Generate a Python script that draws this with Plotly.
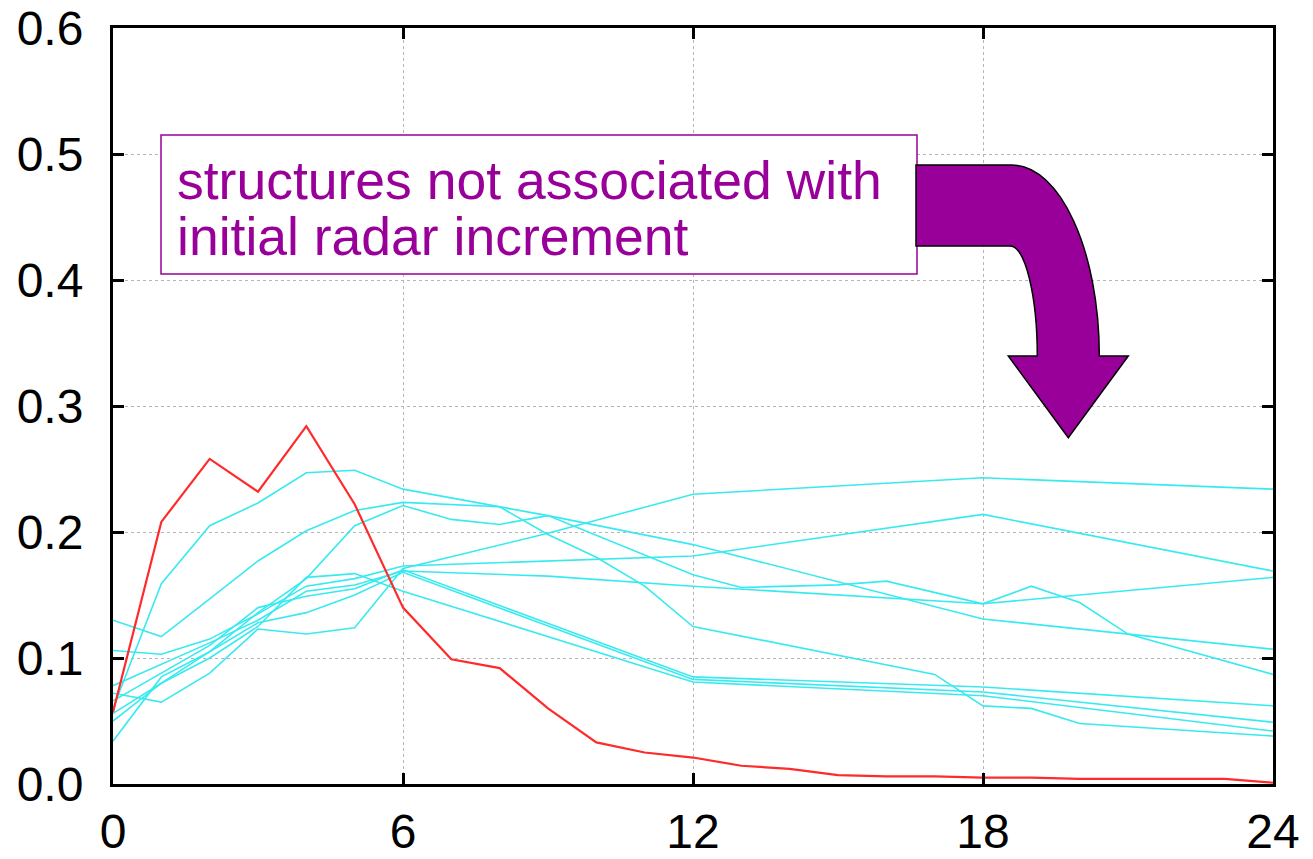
import plotly.graph_objects as go

# Lead time in hours (0-24); None marks hours with no stored vertex
hours = list(range(25))
N = None

# Spread of the highlighted structure (red)
red_vals = [0.057, 0.208, 0.258, 0.232, 0.284, 0.222, 0.140, 0.099, 0.092, 0.060,
            0.033, 0.025, 0.021, 0.0145, 0.012, 0.007, 0.006, 0.006, 0.005, 0.005,
            0.004, 0.004, 0.004, 0.004, 0.001]

# Structures not associated with the initial radar increment (cyan)
cyan_1 = [0.060, 0.159, 0.205, 0.223, 0.247, 0.249, 0.234, N, N, 0.213, N, N, 0.190,
          N, N, N, N, N, 0.131, N, N, N, N, N, 0.107]
cyan_2 = [0.130, 0.117, 0.147, 0.177, 0.201, 0.217, 0.2235, N, 0.220, 0.198, 0.180, 0.157, 0.125,
          N, N, N, N, 0.087, 0.062, 0.060, 0.048, N, N, N, 0.038]
cyan_3 = [0.050, 0.080, 0.105, 0.136, 0.163, 0.205, 0.221, 0.210, 0.206, 0.213, N, N, 0.166,
          0.156, N, 0.158, 0.161, N, 0.143, 0.157, 0.144, 0.119, N, N, 0.087]
cyan_4 = [0.072, 0.065, 0.088, 0.123, 0.119, 0.124, 0.171, N, N, 0.199, N, N, 0.230,
          N, N, N, N, N, 0.243, N, N, N, N, N, 0.234]
cyan_5 = [0.106, 0.103, 0.115, 0.135, 0.157, 0.163, 0.173, N, N, N, N, N, 0.181,
          N, N, N, N, N, 0.214, N, N, N, N, N, 0.169]
cyan_6 = [0.078, 0.095, 0.112, 0.130, 0.153, 0.158, 0.169, N, N, 0.165, N, N, 0.157,
          N, N, N, N, N, 0.143, N, N, N, N, N, 0.164]
cyan_7 = [0.066, 0.088, 0.110, 0.140, 0.149, 0.155, 0.170, N, N, N, N, N, 0.085,
          N, N, N, N, N, 0.077, N, N, N, N, N, 0.062]
cyan_8 = [0.034, 0.085, 0.105, 0.128, 0.136, 0.150, 0.168, N, N, N, N, N, 0.083,
          N, N, N, N, N, 0.073, N, N, N, N, N, 0.049]
cyan_9 = [0.056, 0.080, 0.100, 0.125, 0.164, 0.167, 0.153, N, N, N, N, N, 0.081,
          N, N, N, N, N, 0.070, N, N, N, N, N, 0.042]

x_ticks = [0, 6, 12, 18, 24]
y_ticks = [0.0, 0.1, 0.2, 0.3, 0.4, 0.5, 0.6]

note_lines = ["structures not associated with", "initial radar increment"]

# Figure geometry (pixels)
W, H = 1313, 859
L, R, T, B = 113, 40, 28, 75
PW, PH = W - L - R, H - T - B

PURPLE = "#990099"
CYAN = "#38eaf0"
FONT = "Liberation Sans, Arial, sans-serif"


def px(x):
    return (x - L) / PW


def py(y):
    return (H - B - y) / PH


fig = go.Figure()

for vals in [cyan_1, cyan_2, cyan_3, cyan_4, cyan_5, cyan_6, cyan_7, cyan_8, cyan_9]:
    fig.add_trace(go.Scatter(x=hours, y=vals, mode="lines", connectgaps=True,
                             line=dict(color=CYAN, width=1.6), hoverinfo="skip",
                             showlegend=False))

fig.add_trace(go.Scatter(x=hours, y=red_vals, mode="lines",
                         line=dict(color="#ff2a2a", width=2.2), showlegend=False))

axis_common = dict(
    showline=True, linecolor="black", linewidth=3, mirror="ticks",
    ticks="inside", ticklen=11, tickwidth=3, tickcolor="black",
    showgrid=True, gridcolor="#b5b5b5", gridwidth=1, griddash="dot",
    zeroline=False, automargin=False,
    tickfont=dict(family=FONT, size=48, color="black"),
)

fig.update_xaxes(range=[0, 24], tickvals=x_ticks, ticktext=[str(v) for v in x_ticks],
                 ticklabelstandoff=3, **axis_common)
fig.update_yaxes(range=[0, 0.6], tickvals=y_ticks, ticktext=[f"{v:.1f}" for v in y_ticks],
                 ticklabelstandoff=17, **axis_common)

# Text box
fig.add_shape(type="rect", xref="paper", yref="paper",
              x0=px(161), x1=px(917), y0=py(274), y1=py(135),
              line=dict(color=PURPLE, width=1.5), fillcolor="white", layer="above")

for i, txt in enumerate(note_lines):
    fig.add_annotation(xref="paper", yref="paper", x=px(175), y=py(181 + 55 * i),
                       xanchor="left", yanchor="middle", showarrow=False, text=txt,
                       font=dict(family=FONT, size=53.5, color=PURPLE))

# Curved arrow pointing down to the cyan curves
k = 0.5523
ox0, oy0, ox1, oy1 = 1011.7, 165, 1099.3, 356
ix0, iy0, ix1, iy1 = 1010, 246, 1037.3, 356
pts = [
    ("M", [(916, 165)]),
    ("L", [(ox0, oy0)]),
    ("C", [(ox0 + k * (ox1 - ox0), oy0), (ox1, oy1 - k * (oy1 - oy0)), (ox1, oy1)]),
    ("L", [(1128.3, 356)]),
    ("L", [(1068.3, 437.7)]),
    ("L", [(1008.3, 356)]),
    ("L", [(ix1, iy1)]),
    ("C", [(ix1, iy1 - k * (iy1 - iy0)), (ix0 + k * (ix1 - ix0), iy0), (ix0, iy0)]),
    ("L", [(916, 246)]),
]
path = ""
for cmd, coords in pts:
    path += cmd + " " + " ".join(f"{px(a):.5f},{py(b):.5f}" for a, b in coords) + " "
path += "Z"
fig.add_shape(type="path", xref="paper", yref="paper", path=path,
              fillcolor=PURPLE, line=dict(color="black", width=1.5), layer="above")

fig.update_layout(
    width=W, height=H, autosize=False,
    margin=dict(l=L, r=R, t=T, b=B),
    paper_bgcolor="white", plot_bgcolor="white",
    showlegend=False,
)

fig.write_html("out.html")
